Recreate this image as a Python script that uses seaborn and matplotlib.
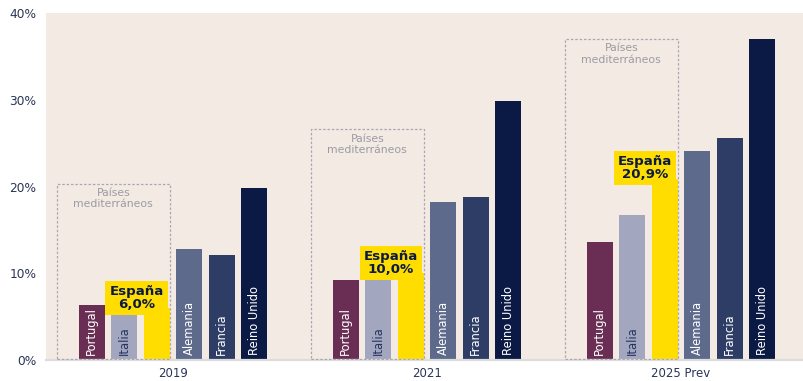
import matplotlib
matplotlib.use("Agg")
import matplotlib.pyplot as plt
from matplotlib.patches import Rectangle
import seaborn as sns
import pandas as pd

# Data: share (%) by year and country
years = ["2019", "2021", "2025 Prev"]
countries = ["Portugal", "Italia", "España", "Alemania", "Francia", "Reino Unido"]
portugal = [6.3, 9.2, 13.6]
italia = [5.9, 9.3, 16.7]
espana = [6.0, 10.0, 20.9]
alemania = [12.8, 18.2, 24.1]
francia = [12.1, 18.8, 25.6]
reino_unido = [19.8, 29.9, 37.0]
espana_labels = ["España\n6,0%", "España\n10,0%", "España\n20,9%"]
mediterranean_top = [20.3, 26.6, 37.0]
y_ticks = [0, 10, 20, 30, 40]
y_tick_labels = ["0%", "10%", "20%", "30%", "40%"]

series = [portugal, italia, espana, alemania, francia, reino_unido]
df = pd.DataFrame(
    [(y, c, v[i]) for c, v in zip(countries, series) for i, y in enumerate(years)],
    columns=["year", "country", "value"],
)

palette = {
    "Portugal": "#6A2E54",
    "Italia": "#A2A6BF",
    "España": "#FFDD00",
    "Alemania": "#5E6A8B",
    "Francia": "#2D3D66",
    "Reino Unido": "#0B1A45",
}
inner_text = {
    "Portugal": "white",
    "Italia": "#24345E",
    "España": None,
    "Alemania": "white",
    "Francia": "white",
    "Reino Unido": "white",
}

bg = "#F3EAE4"
navy = "#2B3556"

sns.set_theme(style="white")
plt.rcParams["font.family"] = ["DejaVu Sans"]

fig = plt.figure(figsize=(8.04, 3.81), dpi=100)
ax = fig.add_axes([46 / 804, 21 / 381, 1 - 46 / 804, 347 / 381])
ax.set_facecolor(bg)

sns.barplot(
    data=df, x="year", y="value", hue="country", hue_order=countries,
    order=years, palette=palette, width=0.768, gap=0.2, dodge=True,
    legend=False, ax=ax, saturation=1, edgecolor="none", linewidth=0,
)

# Labels written inside each bar, and the highlighted value box for España
for country, container in zip(countries, ax.containers):
    for i, bar in enumerate(container.patches):
        xc = bar.get_x() + bar.get_width() / 2
        if country == "España":
            ax.annotate(
                espana_labels[i], xy=(xc, bar.get_height()),
                xytext=(-14.5, 7.5), textcoords="offset points",
                ha="center", va="center", fontsize=9.6, fontweight="bold",
                color="#0B1A45", linespacing=1.0, zorder=6,
                bbox=dict(boxstyle="square,pad=0.3", fc="#FFDD00", ec="none"),
            )
        else:
            ax.annotate(
                country, xy=(xc, 0), xytext=(0, 3.5), textcoords="offset points",
                rotation=90, ha="center", va="bottom", fontsize=8.3,
                color=inner_text[country], zorder=5,
            )

# Dashed frame around the Mediterranean group of each year
for i, top in enumerate(mediterranean_top):
    left = i - 0.457
    right = i - 0.013
    ax.add_patch(Rectangle((left, 0.15), right - left, top - 0.15, fill=False,
                           ec="#A9A9AD", lw=0.9, ls=(0, (2, 1.5)), zorder=4))
    ax.text((left + right) / 2, top - 0.5, "Países\nmediterráneos",
            ha="center", va="top", fontsize=7.8, color="#9A9CA4",
            linespacing=1.15, zorder=4)

ax.set_xlim(-0.5, 2.484)
ax.set_ylim(0, 40)
ax.set_yticks(y_ticks)
ax.set_yticklabels(y_tick_labels)
ax.set_xlabel("")
ax.set_ylabel("")
ax.tick_params(axis="y", length=0, pad=7, labelsize=8.8, labelcolor=navy)
ax.tick_params(axis="x", length=0, pad=5, labelsize=8.5, labelcolor=navy)
for s in ["top", "right", "left"]:
    ax.spines[s].set_visible(False)
ax.spines["bottom"].set_color("#DCDCDC")
ax.spines["bottom"].set_linewidth(1.6)

fig.savefig("out.png", dpi=100, facecolor="white")
